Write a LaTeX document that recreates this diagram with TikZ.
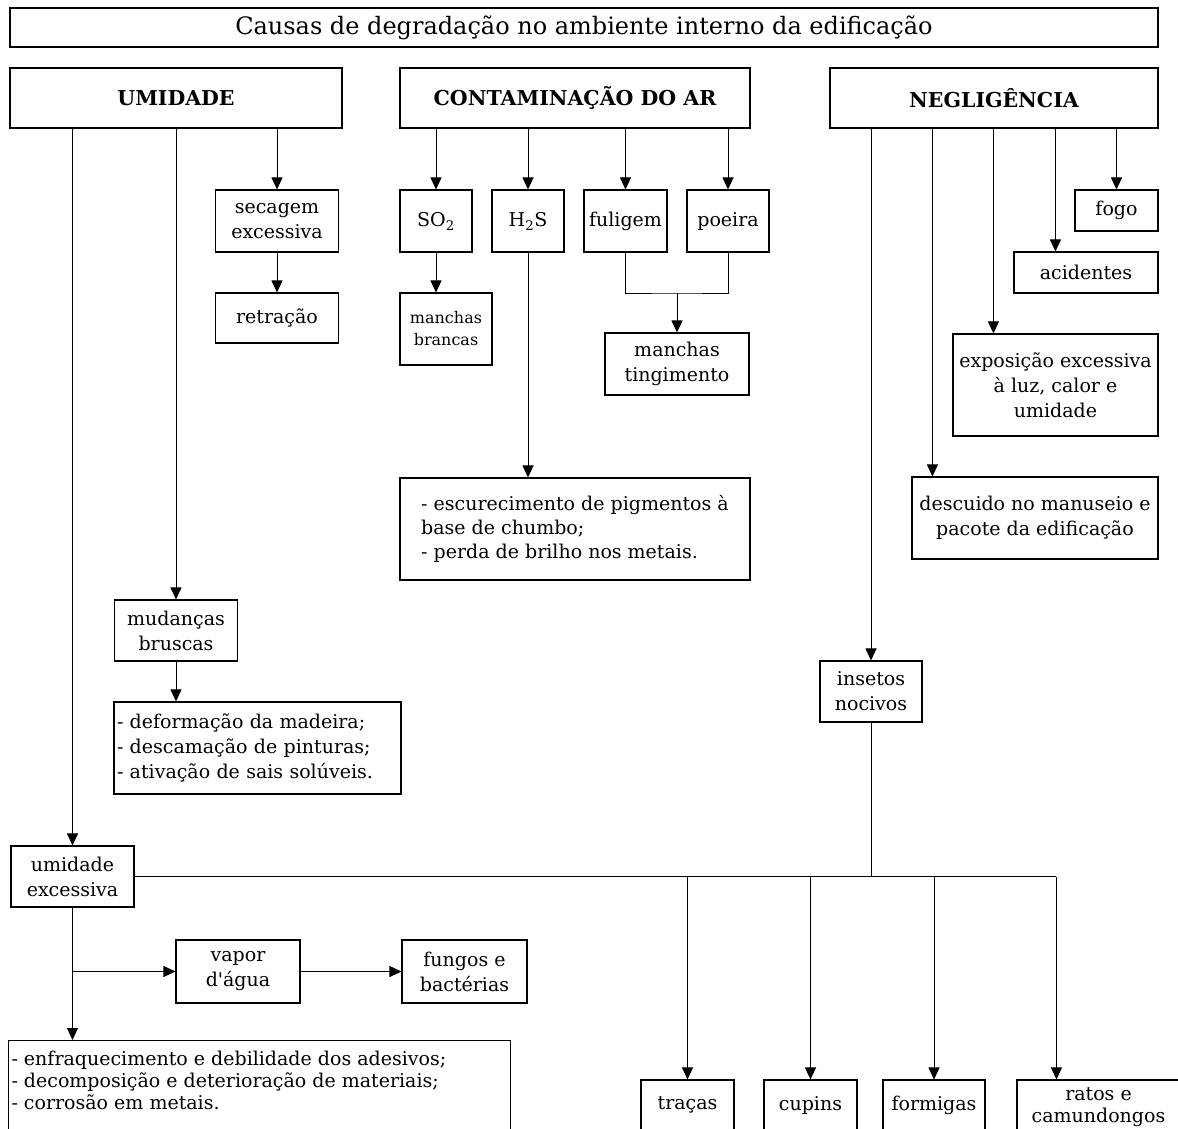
\documentclass[tikz,border=0pt]{standalone}
\usepackage{fontspec}
\setmainfont{DejaVu Serif}
\usetikzlibrary{arrows.meta,calc}
\begin{document}
\begin{tikzpicture}[x=1pt,y=-1pt,
  box/.style={draw, line width=1.1pt, inner sep=0pt, align=center,
              font=\fontsize{19}{25}\selectfont},
  sz/.style 2 args={minimum width=#1pt, minimum height=#2pt},
  head/.style={box, font=\bfseries\fontsize{20.5}{24}\selectfont},
  small/.style={box, font=\fontsize{16}{22}\selectfont},
  list/.style={box, align=left},
  link/.style={line width=1pt},
  arr/.style={link, -{Triangle[width=11pt,length=12pt]}},
]
\useasboundingbox (0,0) rectangle (1178,1128);
\clip (0,0) rectangle (1178,1128);

% title and the three groups of causes
\node[box, sz={1148}{39}, font=\fontsize{24}{28}\selectfont] (title) at (584,27.5)
  {Causas de degradação no ambiente interno da edificação};
\node[head, sz={332}{60}] (umid)   at (176,98) {UMIDADE};
\node[head, sz={350}{60}] (contam) at (575,98) {CONTAMINAÇÃO DO AR};
\node[head, sz={328}{60}] (neglig) at (994,98) {NEGLIGÊNCIA};

% humidity branch
\node[box, sz={123}{62}] (secagem)  at (277,221)   {secagem\\excessiva};
\node[box, sz={123}{50}] (retracao) at (277,318)   {retração};
\node[box, sz={123}{61}] (mudancas) at (176,630.5) {mudanças\\bruscas};
\node[list, text width=281pt, inner xsep=3pt, minimum height=92pt] (deform) at (257.5,748)
  {- deformação da madeira;\\- descamação de pinturas;\\- ativação de sais solúveis.};
\node[box, sz={123}{61}] (umidexc) at (72.5,876.5) {umidade\\excessiva};
\node[box, sz={124}{63}] (vapor)  at (238,971.5)   {vapor\\d\textquotesingle água};
\node[box, sz={125}{63}] (fungos) at (464.5,971.5) {fungos e\\bactérias};
\node[box, anchor=north west, inner xsep=3pt, inner ysep=0pt] (efeitos) at (8,1040)
  {\parbox[c][100pt][t]{496pt}{\raggedright\fontsize{19}{22}\selectfont\vspace*{10pt}%
   - enfraquecimento e debilidade dos adesivos;\\
   - decomposição e deterioração de materiais;\\
   - corrosão em metais.}};

% air contamination branch
\node[box, sz={72}{62}] (so2)     at (436,221)   {SO\textsubscript{2}};
\node[box, sz={72}{62}] (h2s)     at (528,221)   {H\textsubscript{2}S};
\node[box, sz={83}{62}] (fuligem) at (625.5,221) {fuligem};
\node[box, sz={82}{62}] (poeira)  at (728,221)   {poeira};
\node[small, sz={92}{72}] (mbrancas) at (446,329) {manchas\\brancas};
\node[box, sz={144}{62}] (mting)  at (677,364)   {manchas\\tingimento};
\coordinate (join) at (677,293);
\node[list, sz={350}{102}, font=\fontsize{19}{24}\selectfont] (escur) at (575,529)
  {- escurecimento de pigmentos à\\base de chumbo;\\- perda de brilho nos metais.};

% negligence branch
\node[box, sz={83}{41}]   (fogo)     at (1116.5,210.5) {fogo};
\node[box, sz={144}{41}]  (acid)     at (1086,272.5)   {acidentes};
\node[box, sz={205}{102}] (expos)    at (1055.5,385)   {exposição excessiva\\à luz, calor e\\umidade};
\node[box, sz={246}{82}]  (descuido) at (1035,518)     {descuido no manuseio e\\pacote da edificação};
\node[box, sz={102}{61}]  (insetos)  at (871,691.5)    {insetos\\nocivos};

% pests
\node[box, sz={93}{50}]  (tracas)   at (687.5,1105)  {traças};
\node[box, sz={93}{50}]  (cupins)   at (810.5,1105)  {cupins};
\node[box, sz={102}{50}] (formigas) at (934,1105)    {formigas};
\node[box, sz={163}{54}, font=\fontsize{19}{22}\selectfont] (ratos) at (1098.5,1107)
  {ratos e\\camundongos};

% connectors: humidity
\draw[arr] (umid.south -| umidexc.north) -- (umidexc.north);
\draw[arr] (umid.south -| mudancas.north) -- (mudancas.north);
\draw[arr] (umid.south -| secagem.north) -- (secagem.north);
\draw[arr] (secagem.south) -- (retracao.north);
\draw[arr] (mudancas.south) -- (mudancas.south |- deform.north);
\draw[arr] (umidexc.south) -- (umidexc.south |- efeitos.north);
\draw[arr] (umidexc.south |- vapor.west) -- (vapor.west);
\draw[arr] (vapor.east) -- (fungos.west);

% connectors: air contamination
\draw[arr] (contam.south -| so2.north) -- (so2.north);
\draw[arr] (contam.south -| h2s.north) -- (h2s.north);
\draw[arr] (contam.south -| fuligem.north) -- (fuligem.north);
\draw[arr] (contam.south -| poeira.north) -- (poeira.north);
\draw[arr] (so2.south) -- (so2.south |- mbrancas.north);
\draw[link] (fuligem.south) |- (join) -| (poeira.south);
\draw[arr] (join) -- (join |- mting.north);
\draw[arr] (h2s.south) -- (h2s.south |- escur.north);

% connectors: negligence
\coordinate (dIn) at ($(descuido.north west)+(21,0)$);
\coordinate (eIn) at ($(expos.north west)+(41,0)$);
\coordinate (aIn) at ($(acid.north west)+(42,0)$);
\draw[arr] (neglig.south -| insetos.north) -- (insetos.north);
\draw[arr] (neglig.south -| dIn) -- (dIn);
\draw[arr] (neglig.south -| eIn) -- (eIn);
\draw[arr] (neglig.south -| aIn) -- (aIn);
\draw[arr] (neglig.south -| fogo.north) -- (fogo.north);

% connectors: pests
\coordinate (rIn) at ($(ratos.north west)+(40,0)$);
\draw[link] (insetos.south) -- (insetos.south |- umidexc.east);
\draw[link] (umidexc.east) -- (umidexc.east -| rIn);
\draw[arr] (umidexc.east -| tracas.north) -- (tracas.north);
\draw[arr] (umidexc.east -| cupins.north) -- (cupins.north);
\draw[arr] (umidexc.east -| formigas.north) -- (formigas.north);
\draw[arr] (umidexc.east -| rIn) -- (rIn);
\end{tikzpicture}
\end{document}
